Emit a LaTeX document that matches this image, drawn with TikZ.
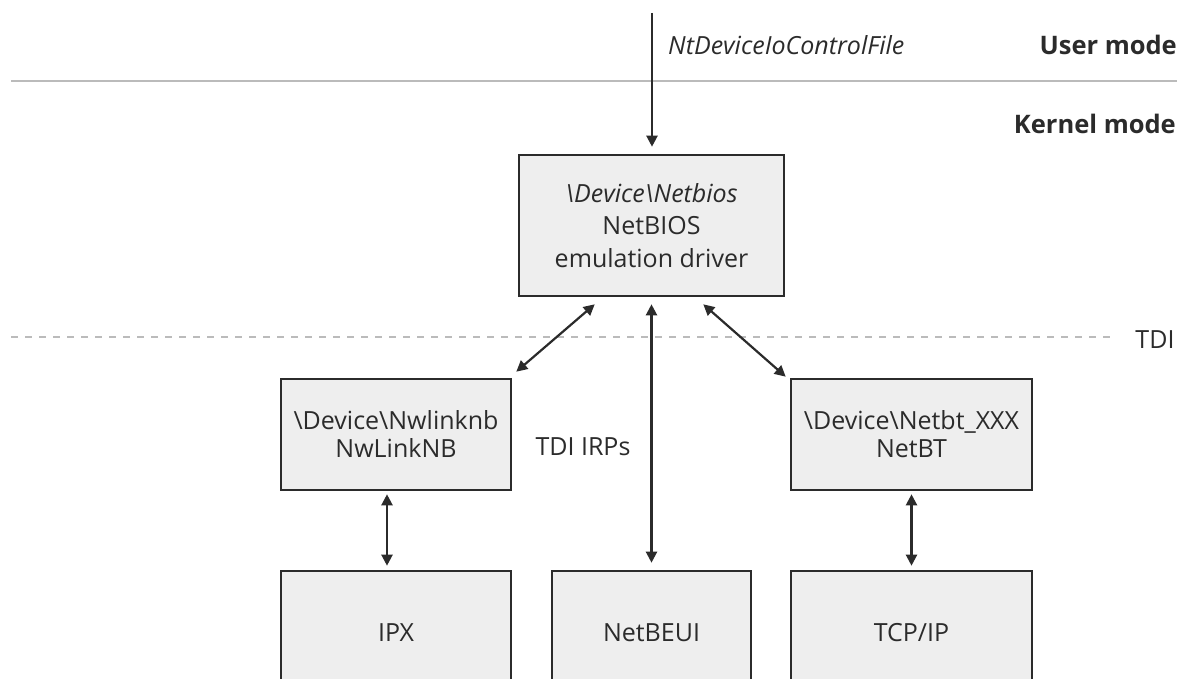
\documentclass[tikz,border=0pt]{standalone}
\usepackage{fontspec}
\setmainfont{Open Sans}
\usetikzlibrary{arrows.meta}
\definecolor{ink}{HTML}{2B2B2B}
\definecolor{boxfill}{HTML}{EEEEEE}
\definecolor{rule}{HTML}{BBBBBB}
\tikzset{
  layer/.style={draw=ink, fill=boxfill, line width=2.6pt, align=center, text=ink,
    inner sep=0pt, font=\fontsize{25}{28}\selectfont},
  link/.style={ink, line width=2.2pt, {Triangle[length=11pt,width=11pt]}-{Triangle[length=11pt,width=11pt]}},
  call/.style={ink, line width=2.2pt, -{Triangle[length=11pt,width=11pt]}},
  lbl/.style={text=ink, inner sep=0pt, font=\fontsize{25}{28}\selectfont},
  mode/.style={text=ink, inner sep=0pt, font=\fontsize{25.5}{28}\selectfont\bfseries}
}
\begin{document}
\begin{tikzpicture}[x=1pt,y=-1pt]
  \useasboundingbox (0,0) rectangle (1181,679);
  \clip (0,0) rectangle (1181,679);
  % user / kernel boundary and TDI boundary
  \draw[rule, line width=2.5pt] (11,81) -- (1177,81);
  \draw[rule, line width=2.5pt, dash pattern=on 7pt off 7pt] (11,337) -- (1117,337);
  \node[mode, anchor=east] (user) at (1177,45) {User mode};
  \node[mode, anchor=east] (kernel) at (1176,124) {Kernel mode};
  \node[lbl] (tdi) at (1155,340) {TDI};
  % drivers
  \node[layer, minimum width=265pt, minimum height=141pt, font=\fontsize{25}{32.5}\selectfont] (netbios) at (651.5,225.5)
    {{\itshape\textbackslash Device\textbackslash Netbios}\\NetBIOS\\emulation driver};
  \node[layer, minimum width=230pt, minimum height=111pt] (nwlink) at (396,434.5)
    {\textbackslash Device\textbackslash Nwlinknb\\NwLinkNB};
  \node[layer, minimum width=241pt, minimum height=111pt] (netbt) at (911.5,434.5)
    {\textbackslash Device\textbackslash Netbt\_XXX\\NetBT};
  \foreach \nm/\x/\w/\txt in {ipx/396/230/IPX, netbeui/651.5/199/NetBEUI, tcpip/911.5/241/{TCP/IP}} {
    \node[layer, minimum width=\w pt, minimum height=124pt] (\nm) at (\x,633) {\txt};
  }
  \node[lbl] (irps) at (583,447) {TDI IRPs};
  % calls
  \coordinate (app) at (652,13);
  \draw[call] (app) -- ([yshift=7pt]netbios.north -| app);
  \node[lbl, font=\fontsize{25}{28}\selectfont\itshape, anchor=west] (ioctl) at (668,45) {NtDeviceIoControlFile};
  \draw[link] ([xshift=77pt,yshift=-7pt]netbios.south west) -- ([xshift=4pt,yshift=6pt]nwlink.north east);
  \draw[link] ([xshift=-82pt,yshift=-7pt]netbios.south east) -- ([xshift=-4pt,yshift=1pt]netbt.north west);
  \draw[link] ([yshift=-7pt]netbios.south) -- ([yshift=7pt]netbeui.north);
  \draw[link] ([xshift=-9pt,yshift=-3pt]nwlink.south) -- ([xshift=-9pt,yshift=4pt]ipx.north);
  \draw[link] ([yshift=-3pt]netbt.south) -- ([yshift=4pt]tcpip.north);
\end{tikzpicture}
\end{document}
